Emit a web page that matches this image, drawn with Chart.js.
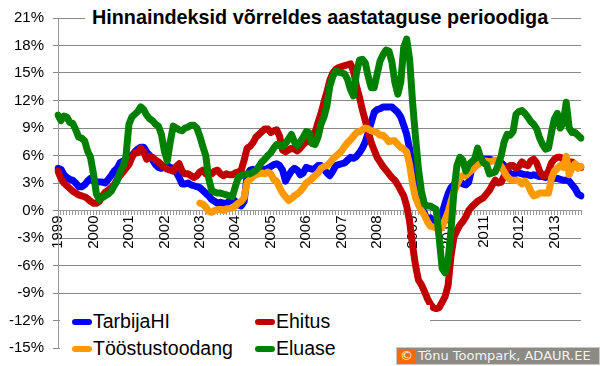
<!DOCTYPE html>
<html>
<head>
<meta charset="utf-8">
<script src="https://cdn.jsdelivr.net/npm/chart.js@4.4.1/dist/chart.umd.min.js"></script>
<style>
  body { margin: 0; background: #fff; }
  #wrap { position: relative; width: 600px; height: 366px; font-family: 'Liberation Sans', Arial, sans-serif; }
  #title { position: absolute; left: 85px; top: 3px; width: 466px; height: 28px; background: #fff;
           font-weight: bold; font-size: 19.8px; line-height: 28px; padding-left: 7px; box-sizing: border-box; white-space: nowrap; }
  #legend { position: absolute; left: 60px; top: 305px; width: 370px; height: 61px; background: #fff; }
  .item { position: absolute; font-size: 19.5px; line-height: 20px; white-space: nowrap; color: #000; }
  .sym { position: absolute; width: 20px; height: 6px; border-radius: 3px; }
  #copy { position: absolute; left: 396px; top: 347px; width: 204px; height: 18px; background: #8b8b84;
          border: 1px solid #c8c8c8; box-sizing: border-box; font-family: 'DejaVu Sans', sans-serif; font-size: 13px;
          color: #f4f4f4; line-height: 16px; white-space: nowrap; }
  #copy .c { display: inline-block; width: 17px; height: 14px; background: #ff6a00; color: #fff; text-align: center;
             line-height: 14px; margin: 1px 3px 0 1px; vertical-align: top; }
</style>
</head>
<body>
<div id="wrap">
  <canvas id="chart" width="600" height="366"></canvas>
  <div id="title">Hinnaindeksid võrreldes aastataguse perioodiga</div>
  <div id="legend"></div>
  <div id="copy"><span class="c">©</span>Tõnu Toompark, ADAUR.EE</div>
</div>
<script>
// monthly values, Jan 1999 .. Oct 2013 (% change vs same month a year earlier)
const startYear = 1999;
const monthCount = 178;

const tarbijaHI = [
  4.6, 4.5, 3.9, 3.6, 3.4, 3.3, 3.0, 2.6, 2.6, 2.8, 3.2, 3.5,
  3.2, 3.1, 3.1, 3.1, 3.0, 3.4, 3.8, 4.3, 4.6, 5.2, 5.4, 5.4,
  5.8, 6.0, 6.4, 6.7, 6.9, 6.9, 6.4, 6.0, 5.5, 5.0, 4.7, 4.6,
  4.8, 4.9, 4.7, 4.6, 4.2, 3.6, 2.9, 2.9, 3.0, 2.8, 2.7, 2.6,
  2.5, 2.2, 1.9, 1.6, 1.2, 1.0, 0.8, 0.9, 0.8, 0.8, 1.0, 1.3,
  1.0, 0.6, 0.5, 1.0, 3.8, 4.4, 4.5, 4.3, 4.3, 4.4, 4.5, 4.6,
  4.8, 5.0, 5.1, 4.9, 4.4, 3.2, 3.8, 4.3, 4.6, 4.4, 3.9, 4.1,
  4.7, 4.6, 4.5, 4.6, 4.9, 4.9, 4.5, 4.1, 3.8, 4.3, 4.9, 5.0,
  5.1, 5.2, 5.5, 5.8, 5.7, 5.9, 6.3, 6.8, 7.5, 8.5, 9.6, 10.7,
  11.0, 11.1, 11.3, 11.3, 11.3, 11.3, 11.0, 10.7, 10.2, 9.3, 8.3, 6.7,
  4.5, 2.6, 1.2, 0.3, -0.3, -1.0, -0.8, -1.2, -1.5, -1.3, -0.3, 0.8,
  1.8, 2.5, 2.8, 3.3, 3.2, 2.9, 2.8, 3.1, 4.5, 4.9, 5.3, 5.6,
  5.6, 5.6, 5.6, 5.5, 5.4, 5.4, 5.2, 4.9, 4.5, 4.0, 3.9, 4.1,
  4.1, 4.0, 3.9, 3.9, 3.8, 3.9, 3.8, 3.7, 3.7, 3.6, 3.7, 3.6,
  3.5, 3.5, 3.4, 3.3, 3.3, 3.2, 2.8, 2.4, 1.8, 1.6
];

const ehitus = [
  4.3, 3.5, 3.0, 2.7, 2.4, 2.1, 1.9, 1.7, 1.6, 1.5, 1.3, 1.0,
  0.8, 0.8, 1.0, 1.6, 2.0, 2.2, 2.5, 2.8, 3.4, 3.8, 4.2, 4.6,
  5.0, 5.8, 6.3, 6.3, 6.8, 6.4, 5.6, 5.9, 5.8, 5.5, 5.3, 5.0,
  4.7, 4.5, 4.4, 4.3, 4.8, 5.1, 4.3, 4.0, 4.0, 3.8, 3.6, 3.8,
  4.2, 4.4, 4.0, 3.9, 4.0, 4.3, 4.4, 4.0, 3.8, 4.0, 3.9, 3.9,
  4.1, 4.2, 4.4, 5.5, 6.8, 7.0, 7.4, 8.0, 8.3, 8.6, 8.9, 8.9,
  8.5, 8.7, 8.8, 8.1, 6.6, 6.4, 6.6, 6.8, 6.7, 6.5, 6.8, 7.2,
  7.5, 7.5, 7.8, 8.5, 9.6, 10.6, 11.8, 12.9, 14.2, 15.0, 15.4, 15.6,
  15.7, 15.8, 15.9, 16.0, 15.2, 13.6, 12.4, 11.0, 9.8, 8.6, 7.4, 6.6,
  5.8, 5.3, 4.8, 4.4, 4.0, 3.6, 3.3, 2.8, 2.2, 1.6, 0.5, -1.2,
  -3.8, -6.0, -7.6, -8.1, -8.8, -9.6, -10.2, -10.6, -10.7, -10.6, -10.0, -9.4,
  -8.2, -5.0, -2.9, -2.2, -1.6, -1.2, -0.7, 0.0, 0.4, 0.7, 1.0, 1.2,
  1.4, 1.8, 2.2, 2.8, 3.3, 3.0, 3.1, 3.8, 4.6, 4.9, 4.9, 4.6,
  4.8, 5.3, 5.0, 4.9, 5.4, 5.6, 5.2, 4.3, 3.8, 3.8, 4.3, 5.2,
  5.6, 5.8, 5.8, 5.6, 5.4, 5.3, 5.3, 5.0, 4.8, 4.7
];

// industrial output series starts in Jan 2003
const toostustoodang = [
  null, null, null, null, null, null, null, null, null, null, null, null,
  null, null, null, null, null, null, null, null, null, null, null, null,
  null, null, null, null, null, null, null, null, null, null, null, null,
  null, null, null, null, null, null, null, null, null, null, null, null,
  0.8, 0.7, 0.4, -0.1, -0.2, 0.0, 0.1, 0.1, 0.0, 0.2, 0.2, 0.3,
  0.5, 0.8, 1.0, 1.4, 3.1, 3.4, 3.7, 3.9, 4.0, 4.1, 4.0, 4.2,
  4.0, 3.4, 3.2, 2.5, 1.9, 1.5, 1.1, 1.3, 1.6, 1.8, 2.1, 2.5,
  3.0, 3.2, 3.5, 3.8, 4.1, 4.6, 4.8, 4.9, 5.2, 5.6, 5.9, 6.2,
  6.5, 7.0, 7.4, 7.7, 8.1, 8.5, 8.6, 8.8, 9.0, 8.9, 8.7, 8.6,
  8.5, 8.2, 8.2, 7.9, 7.5, 7.6, 7.6, 7.2, 6.9, 6.7, 6.4, 5.0,
  2.9, 1.4, 0.6, 0.0, -0.5, -1.2, -1.7, -1.8, -1.9, -2.1, -1.8, -1.0,
  -0.2, 1.0, 2.0, 2.8, 3.5, 3.8, 3.8, 4.1, 4.4, 4.7, 5.0, 5.2,
  5.4, 5.4, 5.3, 5.4, 5.5, 5.2, 4.8, 4.2, 3.7, 3.4, 3.3, 3.3,
  3.2, 2.9, 3.2, 2.8, 2.1, 1.6, 1.7, 1.9, 1.9, 1.9, 1.9, 3.5,
  4.3, 4.6, 4.9, 4.7, 5.9, 3.9, 4.7, 5.1, 4.6, 4.8
];

const eluase = [
  10.4, 9.8, 10.3, 10.2, 9.6, 9.5, 8.8, 8.0, 7.9, 7.6, 6.5, 5.8,
  4.0, 1.8, 1.2, 1.4, 1.6, 1.8, 2.1, 2.7, 3.2, 4.2, 4.8, 5.9,
  9.4, 10.2, 10.5, 10.8, 11.3, 11.0, 10.4, 10.0, 9.8, 9.4, 9.2, 8.3,
  6.5, 5.4, 7.5, 9.2, 9.0, 8.8, 8.7, 9.0, 9.1, 9.3, 9.3, 9.0,
  8.1, 7.0, 6.0, 3.5, 2.2, 2.0, 1.9, 1.9, 1.8, 1.7, 1.6, 1.5,
  2.6, 3.6, 3.8, 3.9, 4.0, 4.0, 4.2, 4.4, 4.8, 5.3, 5.6, 6.0,
  6.3, 6.8, 7.2, 7.1, 7.0, 7.3, 7.8, 8.3, 7.5, 7.1, 7.5, 8.0,
  8.6, 8.5, 7.3, 7.2, 8.0, 9.4, 10.2, 11.4, 13.6, 14.6, 15.2, 15.1,
  15.0, 14.9, 14.3, 13.2, 12.5, 15.0, 16.4, 16.5, 16.1, 14.6, 13.4, 13.4,
  14.9, 16.3, 17.0, 17.5, 17.4, 16.2, 14.0, 12.7, 14.0, 17.8, 18.7, 16.5,
  11.8, 8.0, 4.5, 2.1, 0.7, 0.5, 0.5, 0.3, 0.1, -3.0, -6.3, -6.8,
  -5.5, -2.2, 2.1, 4.9, 5.8, 5.5, 4.3, 5.0, 5.3, 5.6, 6.8, 5.8,
  5.2, 5.0, 4.0, 4.1, 4.2, 5.0, 6.0, 7.5, 8.3, 8.2, 8.6, 10.5,
  10.8, 10.9, 10.6, 10.2, 9.7, 9.4, 8.9, 7.9, 7.2, 6.7, 6.8, 8.5,
  10.0, 10.6, 9.0, 9.6, 11.8, 9.0, 8.5, 8.5, 8.2, 7.9
];

const seriesNames = ['TarbijaHI', 'Ehitus', 'Tööstustoodang', 'Eluase'];
const seriesColors = ['#0000ff', '#c00000', '#ff9900', '#008000'];
const yTicks = { min: -15, max: 21, step: 3 };

const months = [];
for (let i = 0; i < monthCount; i++) {
    const y = startYear + Math.floor(i / 12);
    const m = (i % 12) + 1;
    months.push(y + '-' + (m < 10 ? '0' + m : m));
}

const font = "'Liberation Sans', Arial, sans-serif";
const seriesData = [tarbijaHI, ehitus, toostustoodang, eluase];

new Chart(document.getElementById('chart'), {
    type: 'line',
    data: {
        labels: months,
        datasets: seriesData.map((d, i) => ({
            label: seriesNames[i],
            data: d,
            borderColor: seriesColors[i],
            backgroundColor: seriesColors[i],
            order: 4 - i
        }))
    },
    options: {
        responsive: false,
        animation: false,
        layout: { padding: { left: 0, right: 12, top: 15, bottom: 12 } },
        elements: {
            point: { radius: 0 },
            line: { borderWidth: 7, borderJoinStyle: 'round', borderCapStyle: 'round', tension: 0 }
        },
        plugins: { legend: { display: false }, tooltip: { enabled: false } },
        scales: {
            x: {
                position: { y: 0 },
                grid: { drawOnChartArea: false, drawTicks: true, tickLength: 4, color: '#999' },
                border: { color: '#999' },
                ticks: {
                    autoSkip: false,
                    minRotation: 90,
                    maxRotation: 90,
                    padding: 1,
                    color: '#000',
                    font: { family: font, size: 15 },
                    callback: (v, i) => i % 12 === 0 ? String(startYear + i / 12) : ''
                }
            },
            y: {
                min: yTicks.min,
                max: yTicks.max,
                afterFit: s => { s.width = 58; },
                grid: { color: '#888', tickLength: 5 },
                border: { color: '#999' },
                ticks: {
                    stepSize: yTicks.step,
                    padding: 9,
                    color: '#000',
                    font: { family: font, size: 15 },
                    callback: v => v + '%'
                }
            }
        }
    }
});

// legend in two columns, like the original
const legend = document.getElementById('legend');
const spots = [[12, 14], [195, 14], [12, 41], [195, 41]];
seriesNames.forEach((name, i) => {
    const [lx, ly] = spots[i];
    legend.insertAdjacentHTML('beforeend',
        `<div class="sym" style="left:${lx}px;top:${ly}px;background:${seriesColors[i]}"></div>` +
        `<div class="item" style="left:${lx + 21}px;top:${ly - 8}px">${name}</div>`);
});
</script>
</body>
</html>
